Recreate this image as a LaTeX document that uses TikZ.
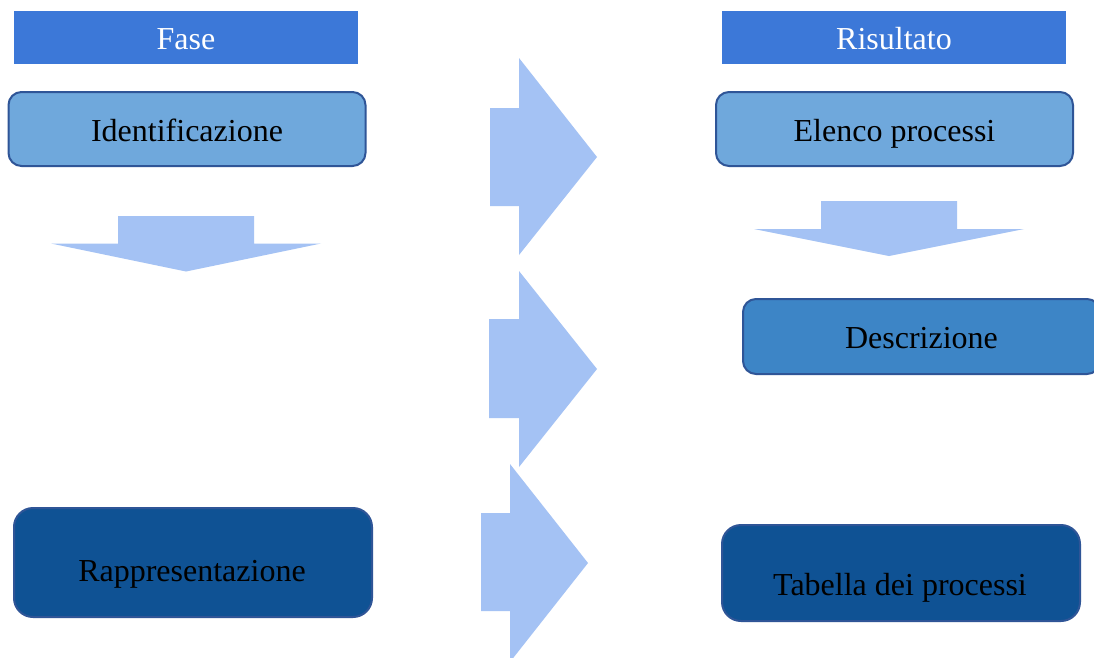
\documentclass[tikz,border=0pt]{standalone}
\usepackage{fontspec}
\setmainfont{Liberation Serif}
\definecolor{hdr}{HTML}{3C78D8}
\definecolor{arr}{HTML}{A4C2F4}
\definecolor{light}{HTML}{6FA8DC}
\definecolor{mid}{HTML}{3D85C6}
\definecolor{dark}{HTML}{0F5294}
\definecolor{edge}{HTML}{2F5597}
\begin{document}
\begin{tikzpicture}[x=1pt,y=-1pt,
  every node/.style={inner sep=0pt,font=\fontsize{32}{38}\selectfont},
  header/.style={fill=hdr,minimum width=344pt,minimum height=53pt},
  box/.style={draw=edge,line width=2pt,rounded corners=13pt,minimum width=357pt},
  bigbox/.style={box,rounded corners=19pt,minimum width=358pt},
  txt/.style={text=black,anchor=base},
  htxt/.style={text=white,anchor=base},
  blockarrow/.style={fill=arr,draw=none}]
\clip (0,0) rectangle (1094,657);
\fill[white] (0,0) rectangle (1094,657);
% headers
\node[header] (fase) at (186,37.5) {};
\node[htxt] (fasetxt) at (186,49) {Fase};
\node[header] (ris) at (894,37.5) {};
\node[htxt] (ristxt) at (894,49) {Risultato};
% boxes
\node[box,fill=light,minimum height=74pt] (ident) at (187,129) {};
\node[txt] (identtxt) at (187,141) {Identificazione};
\node[box,fill=light,minimum height=74pt] (elenco) at (894.5,129) {};
\node[txt] (elencotxt) at (894.5,141) {Elenco processi};
\node[box,fill=mid,minimum height=75pt] (descr) at (921.5,336.5) {};
\node[txt] (descrtxt) at (921.5,348) {Descrizione};
\node[bigbox,fill=dark,minimum height=109pt] (rapp) at (193,562.5) {};
\node[txt] (rapptxt) at (192,581) {Rappresentazione};
\node[bigbox,fill=dark,minimum height=96pt] (tab) at (901,573) {};
\node[txt] (tabtxt) at (900,595) {Tabella dei processi};
% down arrows
\fill[blockarrow] (118,216) -- (254,216) -- (254,243.5) -- (321,243.5) -- (186,271.5) -- (51,243.5) -- (118,243.5) -- cycle;
\fill[blockarrow] (821,201) -- (957,201) -- (957,229) -- (1024,229) -- (889,256) -- (754,229) -- (821,229) -- cycle;
% right arrows
\fill[blockarrow] (490,108) -- (519,108) -- (519,58) -- (597,157) -- (519,255) -- (519,206) -- (490,206) -- cycle;
\fill[blockarrow] (489,319) -- (519,319) -- (519,271) -- (597,369) -- (519,467) -- (519,418) -- (489,418) -- cycle;
\fill[blockarrow] (481,513) -- (510,513) -- (510,464) -- (588,563) -- (510,662) -- (510,611) -- (481,611) -- cycle;
\end{tikzpicture}
\end{document}
